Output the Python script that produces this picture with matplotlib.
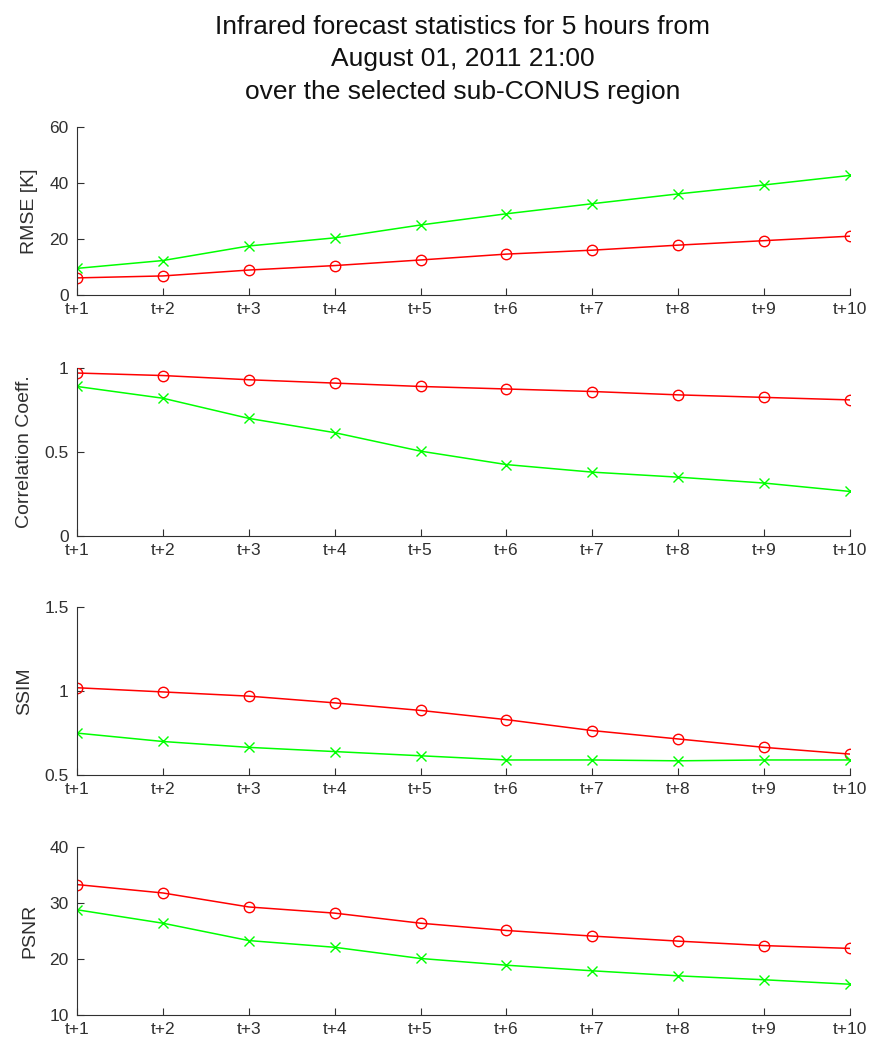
import matplotlib
matplotlib.use("Agg")
import matplotlib.pyplot as plt
import numpy as np


steps = ["t+1", "t+2", "t+3", "t+4", "t+5", "t+6", "t+7", "t+8", "t+9", "t+10"]

rmse_red = [6.1, 6.8, 8.9, 10.5, 12.5, 14.6, 16.0, 17.8, 19.4, 21.0]
rmse_green = [9.5, 12.3, 17.5, 20.4, 25.0, 29.0, 32.6, 36.1, 39.3, 42.7]

corr_red = [0.97, 0.955, 0.93, 0.91, 0.89, 0.875, 0.86, 0.84, 0.825, 0.81]
corr_green = [0.89, 0.82, 0.70, 0.615, 0.505, 0.425, 0.38, 0.35, 0.315, 0.265]

ssim_red = [1.02, 0.995, 0.97, 0.93, 0.885, 0.83, 0.765, 0.715, 0.665, 0.625]
ssim_green = [0.75, 0.70, 0.665, 0.64, 0.615, 0.59, 0.59, 0.585, 0.59, 0.59]

psnr_red = [33.3, 31.8, 29.3, 28.2, 26.4, 25.1, 24.1, 23.2, 22.4, 21.9]
psnr_green = [28.8, 26.4, 23.3, 22.1, 20.1, 18.9, 17.9, 17.0, 16.3, 15.5]

panels = [
    ("RMSE [K]", rmse_red, rmse_green, (0, 60), [0, 20, 40, 60], ["0", "20", "40", "60"]),
    ("Correlation Coeff.", corr_red, corr_green, (0, 1), [0, 0.5, 1], ["0", "0.5", "1"]),
    ("SSIM", ssim_red, ssim_green, (0.5, 1.5), [0.5, 1, 1.5], ["0.5", "1", "1.5"]),
    ("PSNR", psnr_red, psnr_green, (10, 40), [10, 20, 30, 40], ["10", "20", "30", "40"]),
]

bottoms = [0.718, 0.4876, 0.259, 0.0296]

axis_col = "#303030"

plt.rcParams["font.family"] = ["Liberation Sans", "DejaVu Sans"]

fig = plt.figure(figsize=(8.71, 10.46), dpi=100)

x = np.arange(1, len(steps) + 1)

for (label, red, green, ylim, yt, ytl), b in zip(panels, bottoms):
    ax = fig.add_axes([0.0884, b, 0.8875, 0.1606])
    ax.plot(x, red, "-", color="#ff0000", lw=1.1, marker="o", ms=7.5,
            markerfacecolor="none", markeredgewidth=1.0)
    ax.plot(x, green, "-", color="#00ff00", lw=1.1, marker="x", ms=6.5,
            markeredgewidth=1.0)
    ax.set_xlim(1, 10)
    ax.set_ylim(*ylim)
    ax.set_xticks(x)
    ax.set_xticklabels(steps)
    ax.set_yticks(yt)
    ax.set_yticklabels(ytl)
    ax.set_ylabel(label, fontsize=14, color=axis_col, labelpad=8)
    ax.spines["top"].set_visible(False)
    ax.spines["right"].set_visible(False)
    for s in ("left", "bottom"):
        ax.spines[s].set_color(axis_col)
        ax.spines[s].set_linewidth(0.8)
    ax.tick_params(direction="in", length=5, width=0.8, colors=axis_col,
                   labelsize=12.5)
    ax.tick_params(axis="x", pad=5)
    ax.tick_params(axis="y", pad=6)

fig.text(0.531, 0.986, "Infrared forecast statistics for 5 hours from\n"
         "August 01, 2011 21:00\nover the selected sub-CONUS region",
         ha="center", va="top", fontsize=19, linespacing=1.45, color="#111111")

fig.savefig("out.png", dpi=100)
